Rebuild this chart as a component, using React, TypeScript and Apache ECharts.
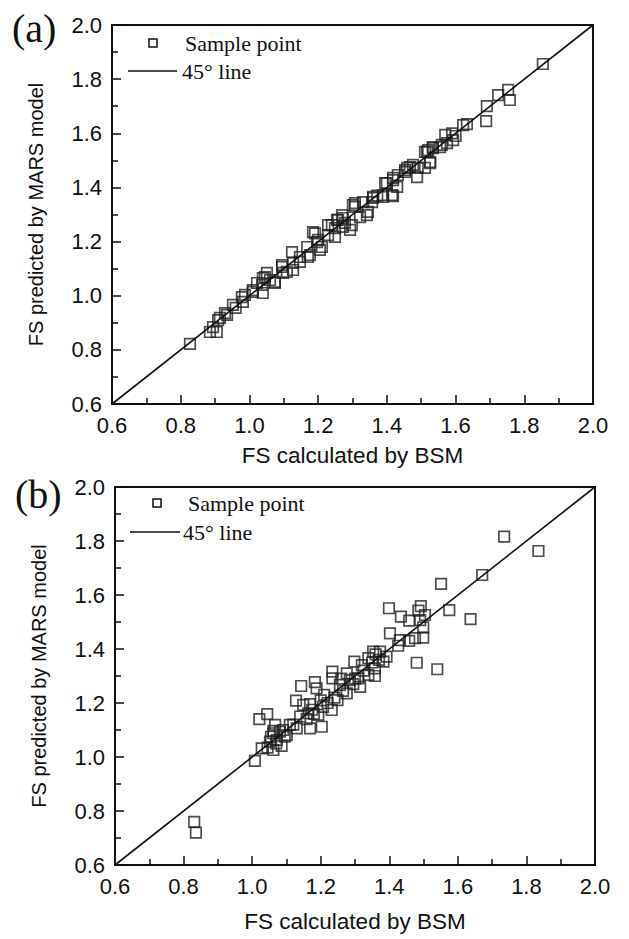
import React, { useEffect, useRef } from "react";
import * as echarts from "echarts";

const axisTicks = [0.6, 0.8, 1.0, 1.2, 1.4, 1.6, 1.8, 2.0];
const xTitle = "FS calculated by BSM";
const yTitle = "FS predicted by MARS model";
const panelLabels = ["(a)", "(b)"];
const legendNames = ["Sample point", "45° line"];
const diagonal = [
  [0.6, 0.6],
  [2.0, 2.0],
];

const samplesA = [
  [0.827, 0.822], [0.885, 0.866], [0.894, 0.884], [0.905, 0.866], [0.909, 0.91],
  [0.914, 0.918], [0.929, 0.936], [0.935, 0.929], [0.952, 0.966], [0.96, 0.955],
  [0.978, 0.995], [0.981, 0.977], [0.987, 1.003], [1.01, 1.014], [1.01, 1.021],
  [1.022, 1.047], [1.037, 1.04], [1.039, 1.065], [1.039, 1.01], [1.045, 1.069],
  [1.051, 1.084], [1.06, 1.058], [1.074, 1.051], [1.074, 1.047], [1.095, 1.113],
  [1.095, 1.106], [1.098, 1.084], [1.109, 1.088], [1.124, 1.161], [1.127, 1.121],
  [1.127, 1.095], [1.147, 1.143], [1.147, 1.125], [1.168, 1.18], [1.17, 1.143],
  [1.176, 1.15], [1.185, 1.235], [1.191, 1.23], [1.197, 1.198], [1.2, 1.206],
  [1.205, 1.169], [1.211, 1.18], [1.229, 1.261], [1.229, 1.224], [1.24, 1.261],
  [1.249, 1.217], [1.249, 1.25], [1.255, 1.28], [1.258, 1.28], [1.27, 1.298],
  [1.272, 1.287], [1.272, 1.254], [1.278, 1.269], [1.293, 1.243], [1.298, 1.261],
  [1.301, 1.335], [1.307, 1.328], [1.307, 1.342], [1.322, 1.29], [1.331, 1.346],
  [1.342, 1.298], [1.345, 1.31], [1.357, 1.346], [1.36, 1.361], [1.36, 1.365],
  [1.372, 1.37], [1.389, 1.365], [1.389, 1.372], [1.395, 1.416], [1.4, 1.416],
  [1.415, 1.372], [1.418, 1.368], [1.418, 1.427], [1.418, 1.435], [1.43, 1.402],
  [1.432, 1.446], [1.453, 1.457], [1.453, 1.464], [1.459, 1.472], [1.467, 1.475],
  [1.476, 1.483], [1.488, 1.438], [1.49, 1.472], [1.511, 1.472], [1.511, 1.531],
  [1.517, 1.531], [1.52, 1.538], [1.526, 1.49], [1.526, 1.494], [1.534, 1.545],
  [1.534, 1.549], [1.555, 1.549], [1.56, 1.557], [1.57, 1.594], [1.575, 1.564],
  [1.59, 1.6], [1.593, 1.575], [1.6, 1.59], [1.622, 1.63], [1.633, 1.634],
  [1.689, 1.645], [1.691, 1.7], [1.724, 1.741], [1.753, 1.76], [1.758, 1.723],
  [1.854, 1.856],
];

const samplesB = [
  [0.831, 0.76], [0.836, 0.72], [1.008, 0.986], [1.021, 1.14], [1.028, 1.032],
  [1.044, 1.159], [1.045, 1.035], [1.052, 1.057], [1.055, 1.075], [1.062, 1.026],
  [1.062, 1.097], [1.062, 1.088], [1.067, 1.119], [1.07, 1.05], [1.072, 1.063],
  [1.081, 1.094], [1.086, 1.041], [1.09, 1.1], [1.095, 1.075], [1.101, 1.081],
  [1.11, 1.119], [1.12, 1.12], [1.128, 1.209], [1.13, 1.106], [1.14, 1.15],
  [1.143, 1.263], [1.149, 1.193], [1.159, 1.14], [1.164, 1.162], [1.169, 1.196],
  [1.169, 1.106], [1.175, 1.175], [1.18, 1.16], [1.183, 1.277], [1.188, 1.254],
  [1.193, 1.156], [1.2, 1.21], [1.203, 1.112], [1.207, 1.186], [1.21, 1.23],
  [1.22, 1.2], [1.232, 1.174], [1.234, 1.316], [1.234, 1.291], [1.24, 1.22],
  [1.249, 1.211], [1.256, 1.267], [1.26, 1.29], [1.265, 1.245], [1.276, 1.31],
  [1.276, 1.236], [1.285, 1.285], [1.295, 1.27], [1.298, 1.353], [1.3, 1.29],
  [1.31, 1.291], [1.315, 1.26], [1.32, 1.34], [1.325, 1.32], [1.339, 1.366],
  [1.339, 1.304], [1.35, 1.35], [1.353, 1.39], [1.358, 1.328], [1.358, 1.3],
  [1.36, 1.38], [1.37, 1.36], [1.373, 1.39], [1.383, 1.353], [1.392, 1.372],
  [1.399, 1.551], [1.402, 1.458], [1.426, 1.412], [1.431, 1.433], [1.434, 1.52],
  [1.458, 1.505], [1.458, 1.43], [1.475, 1.44], [1.48, 1.349], [1.485, 1.542],
  [1.49, 1.507], [1.492, 1.559], [1.499, 1.48], [1.499, 1.442], [1.504, 1.526],
  [1.54, 1.325], [1.551, 1.641], [1.575, 1.544], [1.637, 1.511], [1.671, 1.674],
  [1.735, 1.816], [1.835, 1.763],
];

const INK = "#111";
const SANS = "'Liberation Sans', Arial, sans-serif";
const SERIF = "'Liberation Serif', 'Times New Roman', serif";

function makeAxis(gridIndex: number, isX: boolean) {
  return {
    type: "value",
    gridIndex,
    min: axisTicks[0],
    max: axisTicks[axisTicks.length - 1],
    interval: 0.2,
    name: isX ? xTitle : yTitle,
    nameLocation: "middle",
    nameMoveOverlap: isX,
    nameGap: isX ? (gridIndex === 0 ? 40 : 45) : 66,
    nameTextStyle: { fontFamily: SANS, fontSize: isX ? 22.5 : 20, color: INK },
    axisLine: { show: true, onZero: false, lineStyle: { color: INK, width: 2 } },
    axisTick: { show: true, inside: true, length: 9, lineStyle: { color: INK, width: 1.5 } },
    minorTick: { show: true, splitNumber: 2, length: 6, lineStyle: { color: INK, width: 1.5 } },
    axisLabel: {
      show: true,
      margin: 10,
      fontFamily: SANS,
      fontSize: 22,
      color: INK,
      showMinLabel: true,
      showMaxLabel: true,
      formatter: (v: number) => v.toFixed(1),
    },
    splitLine: { show: false },
    minorSplitLine: { show: false },
  };
}

function legendGraphics(sqX: number, sqY: number, lineX0: number, lineX1: number, lineY: number, textX1: number, textX2: number) {
  return [
    {
      type: "rect",
      shape: { x: sqX - 4, y: sqY - 4, width: 8, height: 8 },
      style: { fill: "none", stroke: INK, lineWidth: 1.5 },
    },
    {
      type: "text",
      x: textX1,
      y: sqY,
      style: { text: legendNames[0], font: `22px ${SERIF}`, fill: INK, textVerticalAlign: "middle", verticalAlign: "middle" },
    },
    {
      type: "line",
      shape: { x1: lineX0, y1: lineY, x2: lineX1, y2: lineY },
      style: { stroke: INK, lineWidth: 1.5 },
    },
    {
      type: "text",
      x: textX2,
      y: lineY,
      style: { text: legendNames[1], font: `22px ${SERIF}`, fill: INK, textVerticalAlign: "middle", verticalAlign: "middle" },
    },
  ];
}

export default function App() {
  const ref = useRef<HTMLDivElement>(null);
  useEffect(() => {
    if (!ref.current) return;
    const chart = echarts.init(ref.current, undefined, { renderer: "svg" });
    const scatterStyle = {
      type: "scatter",
      symbol: "rect",
      symbolSize: 10.5,
      itemStyle: { color: "rgba(255,255,255,0)", borderColor: "#222", borderWidth: 1.7 },
      z: 3,
    };
    const lineStyle = {
      type: "line",
      symbol: "none",
      lineStyle: { color: INK, width: 1.6 },
      z: 4,
    };
    chart.setOption({
      animation: false,
      backgroundColor: "#fff",
      grid: [
        { left: 112, top: 25, width: 481, height: 379, show: true, borderColor: INK, borderWidth: 2, backgroundColor: "transparent" },
        { left: 115, top: 487, width: 480, height: 378, show: true, borderColor: INK, borderWidth: 2, backgroundColor: "transparent" },
      ],
      xAxis: [makeAxis(0, true), makeAxis(1, true)],
      yAxis: [makeAxis(0, false), makeAxis(1, false)],
      series: [
        { ...scatterStyle, name: legendNames[0], xAxisIndex: 0, yAxisIndex: 0, data: samplesA },
        { ...lineStyle, name: legendNames[1], xAxisIndex: 0, yAxisIndex: 0, data: diagonal },
        { ...scatterStyle, name: legendNames[0], xAxisIndex: 1, yAxisIndex: 1, data: samplesB },
        { ...lineStyle, name: legendNames[1], xAxisIndex: 1, yAxisIndex: 1, data: diagonal },
      ],
      graphic: [
        {
          type: "text",
          x: 12,
          y: 28,
          style: { text: panelLabels[0], font: `40px ${SERIF}`, fill: INK, verticalAlign: "middle", textVerticalAlign: "middle" },
        },
        {
          type: "text",
          x: 15,
          y: 494,
          style: { text: panelLabels[1], font: `40px ${SERIF}`, fill: INK, verticalAlign: "middle", textVerticalAlign: "middle" },
        },
        ...legendGraphics(153, 43, 128, 177, 71, 185, 182),
        ...legendGraphics(157, 503, 130, 180, 532, 188, 183),
      ],
    });
    return () => chart.dispose();
  }, []);
  return (
    <div
      ref={ref}
      style={{ position: "absolute", left: 0, top: 0, width: 629, height: 939, background: "#fff" }}
    />
  );
}
